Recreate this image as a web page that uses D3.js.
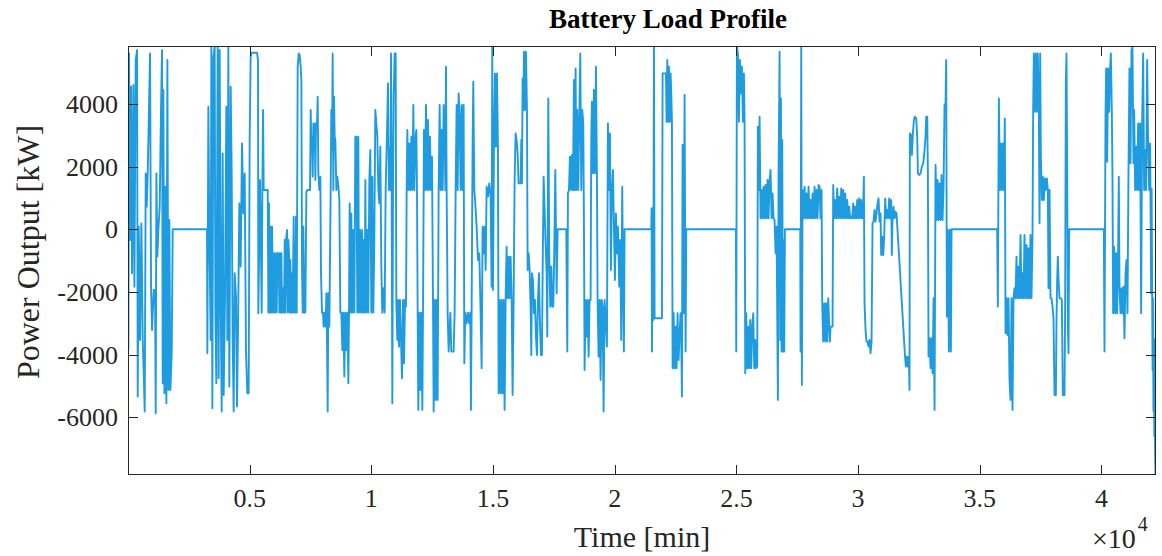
<!DOCTYPE html>
<html><head><meta charset="utf-8">
<script src="https://cdn.jsdelivr.net/npm/d3@7"></script>
<style>body{margin:0;background:#fff;overflow:hidden}</style>
</head><body>
<svg id="c" width="1162" height="556"></svg>
<script>
// ---- data (time in minutes, battery power in kW) ----
const xTicks = [5000, 10000, 15000, 20000, 25000, 30000, 35000, 40000];
const xTickLabels = ["0.5", "1", "1.5", "2", "2.5", "3", "3.5", "4"];
const yTicks = [-6000, -4000, -2000, 0, 2000, 4000];
const yTickLabels = ["-6000", "-4000", "-2000", "0", "2000", "4000"];
const xLimits = [0, 42240];
const yLimits = [-7840, 5850];

const seg1 = [[0,0],[16,-3849],[44,5614],[85,-340],[126,4551],[167,-1404],[222,4604],[263,-1829],[317,5402],[372,5720],[400,-5338],[441,85],[495,-3530],[550,191],[605,-3530],[646,-4593],[687,-5816],[728,1786],[769,723],[810,1786],[851,3381],[906,5614],[947,-1829],[988,-3211],[1057,-1935],[1111,-1935],[1139,-5869],[1166,1786],[1207,-872],[1248,-21],[1303,723],[1358,3913],[1399,5720],[1426,-4912],[1454,4445],[1495,-5231],[1536,1361],[1577,-5550],[1618,5402],[1659,-5125],[1700,298],[1741,-5125],[1796,-3955],[1837,0],[3247,0],[3261,-3955],[3302,3913],[3343,-127],[3398,-3530],[3425,5827],[3466,-5710],[3507,5508],[3562,5827],[3589,-2467],[3630,-4912],[3685,5827],[3726,-4753],[3767,5720],[3808,-2041],[3849,-5816],[3890,2424],[3932,-5285],[3986,-2148],[4041,3913],[4082,-3530],[4123,5827],[4164,-5019],[4219,4551],[4260,1786],[4301,-3530],[4342,-5816],[4383,-1404],[4438,-2148],[4479,-5657],[4520,-3211],[4575,829],[4630,-1191],[4685,2743],[4739,510],[4794,1786],[4849,-3955],[4904,-5231],[4958,-5231],[4999,2850],[5040,5508],[5081,5635],[5300,5635],[5342,5402],[5355,-2680],[5424,1574]];

const seg2 = [[5494,-2658],[5521,1255],[5549,3807],[5576,1255],[5741,1255],[5768,-2658],[5795,829],[5823,-2658],[5850,85],[5891,-2658],[5919,85],[5960,-2658],[6001,-766],[6028,-2658],[6055,-1882],[6083,-766],[6110,-2658],[6138,-766],[6165,-1510],[6192,-766],[6220,-2658],[6247,-766],[6274,-2658],[6302,-766],[6329,-2658],[6370,-1882],[6411,-2658],[6439,-340],[6466,-2658],[6493,-340],[6535,-21],[6562,-2658],[6589,-340],[6617,-766],[6644,-2658],[6671,-978],[6713,-2658],[6740,-1404],[6767,-2658],[6808,404],[6836,-2658],[6877,-2658],[6904,404],[6932,-2658],[6973,5189],[7014,5614],[7055,5561],[7096,5189],[7123,4764],[7151,-1297],[7178,-2658],[7205,85],[7246,-2658],[7288,-2658],[7329,1202],[7370,1255],[7479,1255],[7507,3807],[7534,2531],[7561,2956],[7589,1680],[7616,3381],[7643,2531],[7671,3381],[7698,1574],[7726,3381],[7767,3381],[7794,4232],[7821,1786],[7862,1255],[7904,1680],[7931,-1404],[7972,-2658],[8013,-2658],[8040,-3105],[8082,-2658],[8123,-3105],[8150,-2041],[8177,-3530],[8205,-5816],[8232,-2041],[8273,-3105],[8328,1255],[8355,3807],[8383,2531],[8410,5614],[8437,1255],[8465,4232],[8492,2956],[8520,2850],[8561,1255],[8602,1680],[8657,1255],[8684,936],[8725,-2658],[8766,-2658],[8807,-3849],[8848,-2658],[8889,-4700],[8930,-2658],[8971,-3849],[9012,-2658],[9054,-4912],[9081,-2658],[9108,829],[9149,-2658],[9177,510],[9218,-2658],[9259,-21],[9300,-2658],[9341,2956],[9382,2956],[9423,-2658],[9464,2956],[9492,-2658],[9533,-21],[9574,-2658],[9615,-21],[9642,-2658],[9683,-340],[9724,-2658],[9752,1574],[9793,-2658],[9834,-21],[9875,-2658],[9916,1574],[9957,2531],[9998,-2658],[10039,1680],[10080,-2658],[10121,-340],[10162,3807],[10204,3381],[10245,2956],[10286,1255],[10327,829],[10368,2637],[10409,-1191],[10450,-2658],[10505,-1882],[10546,-2658],[10587,1255],[10642,3062],[10683,4657],[10724,1255],[10765,2637]];

const seg3 = [[10793,1255],[10807,5614],[10834,1255],[10861,-5550],[10889,1255],[10916,4232],[10957,5614],[10998,5614],[11026,-2361],[11067,-3530],[11094,-2254],[11135,-3743],[11176,-2254],[11217,-3530],[11259,-4753],[11300,-2254],[11341,-4275],[11382,-2254],[11423,-2467],[11450,1255],[11478,3169],[11519,1255],[11560,2743],[11601,1255],[11642,2956],[11683,1255],[11724,3966],[11765,1255],[11806,2850],[11847,3169],[11875,1255],[11902,-2658],[11929,-5763],[11970,-2658],[12011,-5125],[12053,-2658],[12094,-5763],[12121,-2658],[12162,3169],[12203,1255],[12244,3966],[12285,1255],[12326,3488],[12367,1255],[12408,2956],[12450,1255],[12491,2318],[12532,-2254],[12559,-5816],[12600,-2254],[12641,-5444],[12682,-2254],[12723,-5444],[12764,1255],[12805,3966],[12847,1255],[12888,3169],[12929,1255],[12970,3966],[13011,3169],[13038,1255],[13066,5189],[13093,1255],[13134,-2658],[13175,-3902],[13244,-2658],[13285,-3902],[13380,-3902],[13421,-2658],[13463,1255],[13504,3966],[13545,1255],[13586,4338],[13627,3594],[13668,1255],[13709,3966],[13750,1255],[13791,3966],[13819,-4275],[13860,-2658],[13914,-2999],[13969,-2658],[14024,-2999],[14065,-2658],[14092,-5763],[14120,-2467],[14161,2850],[14188,4710],[14229,1255],[14270,829],[14325,85],[14380,-978],[14435,-766],[14489,-2658],[14530,-4434],[14571,85],[14613,-766],[14654,85],[14695,-1297],[14736,1361],[14791,1042],[14845,1467],[14900,1042],[14941,-1829],[14968,5827],[14996,-1935],[15037,2637],[15078,4976],[15119,2637],[15160,4976],[15201,2637],[15229,-5231],[15270,-2254],[15311,-5231],[15352,-2254],[15393,-5231],[15434,-2254],[15475,-5763],[15516,-2254],[15557,-553],[15598,-2201],[15639,-872],[15680,-2201],[15721,-872],[15763,-2201],[15804,-5285],[15845,-2254],[15886,1574],[15927,3062],[15968,2850],[16009,2424],[16050,1467],[16105,1467]];

const seg4 = [[16133,1467],[16160,2850],[16188,1467],[16215,4817],[16243,3807],[16270,5667],[16311,3807],[16352,5667],[16393,3807],[16421,-1297],[16462,-766],[16503,-1297],[16544,-2467],[16571,-4009],[16599,-1404],[16640,-1616],[16681,-2680],[16722,-2254],[16763,-3424],[16804,-4009],[16845,-2254],[16886,-1404],[16927,-2999],[16968,-4009],[17009,-4009],[17037,-1404],[17078,1680],[17119,617],[17160,-500],[17201,-1404],[17228,-3424],[17269,4179],[17310,-872],[17351,-2467],[17393,-1191],[17434,-2467],[17475,-2467],[17516,-659],[17557,1893],[17584,85],[17612,-2041],[17653,0],[18008,0],[18050,-3902],[18077,1148],[18118,1255],[18159,2318],[18200,1255],[18241,2371],[18282,1255],[18323,4764],[18351,1255],[18392,5136],[18419,1255],[18460,3807],[18501,1255],[18542,3488],[18584,5614],[18625,1255],[18666,3807],[18707,3381],[18734,191],[18762,-4487],[18803,-2254],[18844,-3424],[18885,-2254],[18926,-4062],[18967,-2254],[19008,-2254],[19035,2850],[19063,4072],[19104,1786],[19145,4445],[19186,1786],[19227,5189],[19268,1786],[19295,-2254],[19337,-4062],[19378,-2254],[19419,-4806],[19460,-2254],[19501,-2467],[19542,-5816],[19583,-2254],[19638,-2999],[19679,-3743],[19720,3381],[19761,1255],[19802,3062],[19843,-1297],[19884,1255],[19926,1893],[19967,85],[20008,-1616],[20049,510],[20089,-766],[20131,85],[20185,-1829],[20226,-340],[20267,-3530],[20308,1361],[20336,-1404],[20377,-3902],[20404,0],[21458,0]];

const seg5 = [[21501,0],[21515,670],[21529,-3902],[21556,-659],[21584,-2892],[21611,5827],[21638,-2839],[21940,-2839],[21967,4976],[22104,4976],[22131,3434],[22159,5402],[22200,3434],[22227,5189],[22268,3434],[22295,4976],[22323,4338],[22350,3434],[22378,-4434],[22419,-2680],[22460,-4434],[22501,-3105],[22542,-4434],[22583,-2680],[22624,-4168],[22665,-3318],[22706,-2680],[22734,-3637],[22761,-5338],[22788,2690],[22829,-2680],[22870,4285],[22911,-3902],[22939,0],[24979,0],[24992,-3902],[25020,5827],[25061,5614],[25102,3434],[25143,5402],[25184,4338],[25225,5189],[25266,3434],[25307,4976],[25335,3434],[25362,-4593],[25403,-2680],[25444,-4434],[25485,-3105],[25526,-4434],[25567,-2892],[25608,-4434],[25649,-3105],[25691,-2680],[25732,-4434],[25773,-3530],[25814,-4434],[25855,-4381],[25882,3275],[25923,1255],[25951,3594],[25992,351],[26033,1255],[26074,351],[26115,1361],[26156,351],[26197,1414],[26238,351],[26279,1574],[26320,351],[26361,1574],[26402,1893],[26444,351],[26485,1148],[26526,351],[26567,298],[26608,-766],[26649,85],[26704,-5444],[26731,1786],[26758,4179]];

const seg6 = [[26773,5667],[26800,-3530],[26828,4179],[26855,-3902],[26882,2850],[26910,-3902],[26937,-340],[26965,-3902],[26992,0],[27622,0],[27635,-3902],[27663,5827],[27690,-4966],[27718,1255],[27759,351],[27800,1361],[27841,351],[27882,1148],[27923,351],[27964,1361],[28005,351],[28046,936],[28087,351],[28128,1148],[28169,351],[28210,1361],[28251,351],[28293,1255],[28334,351],[28375,1414],[28416,1361],[28457,351],[28498,1255],[28525,-2361],[28566,-3583],[28607,-2361],[28649,-3583],[28690,-2361],[28731,-3583],[28772,-2201],[28813,-3105],[28840,-3583],[28868,-3105],[28950,-3105],[28977,1414],[29018,351],[29059,936],[29100,351],[29141,1308],[29182,351],[29223,1042],[29265,351],[29306,1308],[29347,351],[29388,1255],[29429,351],[29470,1148],[29511,351],[29552,936],[29593,351],[29634,723],[29675,351],[29716,404],[29757,351],[29798,829],[29840,351],[29881,723],[29922,351],[29963,936],[30004,351],[30045,989],[30086,351],[30127,936],[30168,351],[30209,723],[30237,1680],[30264,-2361],[30305,-3211],[30346,-3583],[30388,-3583],[30429,-3743],[30470,-3530],[30511,-3955],[30552,-3583],[30593,191],[30634,245],[30675,617],[30716,245],[30757,510],[30798,829],[30839,989],[30880,245],[30921,510],[30948,-819],[30989,-234],[31031,-819],[31072,-234],[31113,989],[31154,351],[31195,617],[31236,351],[31277,989],[31318,351],[31359,936],[31387,-819],[31414,351],[31455,723],[31496,351],[31537,564],[31578,510],[31920,-3955],[31961,-4381],[32002,-4062],[32043,-4381],[32084,-4062],[32112,-5125],[32126,3062]];

const seg7 = [[32169,3009],[32210,2371],[32251,3062],[32292,3488],[32333,3594],[32388,3541],[32429,2956],[32456,1786],[32511,1733],[32566,1786],[32621,1999],[32675,2105],[32730,2531],[32771,2956],[32798,3594],[32840,3594],[32867,1786],[32894,-4062],[32935,-3477],[32976,-4434],[33017,-3477],[33059,-4593],[33100,-2201],[33141,-5763],[33182,2052],[33223,298],[33264,1574],[33305,298],[33346,1467],[33387,298],[33428,1733],[33469,298],[33510,1361],[33551,3966],[33592,4019],[33620,5402],[33647,-2786],[33688,-21],[33729,-3902],[33770,-21],[33811,-3902],[33839,0],[35714,0],[35742,-2467],[35783,4179],[35824,1255],[35865,2743],[35906,1255],[35947,2743],[35988,1255],[36029,3541],[36057,-3318],[36098,-2201],[36139,-3371],[36180,-2201],[36221,-4806],[36262,-5444],[36303,-2201],[36344,-5763],[36385,-2201],[36426,-1882],[36467,-2201],[36508,-872],[36550,-2201],[36591,-1191],[36632,-2201],[36673,-181],[36714,-2201],[36755,-1404],[36796,-2201],[36837,-181],[36878,-2201],[36919,-500],[36960,-2201],[37001,-606],[37042,-2201],[37083,-181],[37124,-2201],[37166,-181],[37193,3807],[37220,5614],[37261,3753],[37302,5614],[37343,3753],[37384,5614],[37426,3753]];

const seg8 = [[37454,191],[37481,5614],[37509,2371],[37550,936],[37591,1680],[37632,936],[37673,1627],[37714,1255],[37755,1627],[37796,1255],[37824,-1882],[37865,1255],[37906,-2201],[37947,-2201],[37988,-2467],[38029,-2839],[38070,-5285],[38125,-5285],[38152,-2892],[38180,-1563],[38207,-872],[38234,-1563],[38275,-2201],[38330,-2201],[38371,-2254],[38412,-5285],[38481,-5285],[38508,-2254],[38535,4657],[38563,5614],[38590,1786],[38618,-3105],[38645,-3955],[38672,0],[40096,0],[40124,-3902],[40165,3594],[40192,5136],[40233,2159],[40274,5136],[40315,3753],[40356,5136],[40384,5614],[40425,3753],[40452,1627],[40479,-2680],[40520,-553],[40562,-2680],[40603,-766],[40644,-2680],[40685,-553],[40712,1680],[40740,-1882],[40781,-2680],[40822,-1882],[40863,-2680],[40904,-1829],[40945,-3477],[40986,-1457],[41027,-978],[41068,-2680],[41109,1786],[41150,5136],[41191,2105],[41232,5720],[41273,5827],[41314,2105],[41342,3807],[41383,1255],[41424,2637],[41465,1255],[41506,3381],[41547,1255],[41588,3381],[41629,-2680],[41670,3381],[41712,5614],[41753,1255],[41794,2531],[41835,1255],[41876,5402],[41917,2743],[41958,1255],[41999,2743],[42040,-2041],[42060,1300],[42081,-2000],[42100,-4500],[42115,-2200],[42135,-5800],[42150,-3500],[42170,-6600],[42185,-5000],[42205,-7300],[42220,-7800],[42232,-2041],[42240,0]];

const series = [].concat(seg1, seg2, seg3, seg4, seg5, seg6, seg7, seg8);

// ---- layout ----
const plot = {left: 128, right: 1156, top: 46, bottom: 475};
const ink = "#262626";
const lineColor = "#1f9be0";
const font = "'Liberation Serif', 'Times New Roman', serif";

const svg = d3.select("#c");
svg.append("rect").attr("width", 1162).attr("height", 556).attr("fill", "#fff");

const x = d3.scaleLinear().domain(xLimits).range([plot.left, plot.right]);
const y = d3.scaleLinear().domain(yLimits).range([plot.bottom, plot.top]);

svg.append("defs").append("clipPath").attr("id", "clip")
  .append("rect").attr("x", plot.left).attr("y", plot.top)
  .attr("width", plot.right - plot.left).attr("height", plot.bottom - plot.top);

const line = d3.line().x(d => x(d[0])).y(d => y(d[1]));
svg.append("path").datum(series)
  .attr("clip-path", "url(#clip)")
  .attr("fill", "none").attr("stroke", lineColor)
  .attr("stroke-width", 1.9).attr("stroke-linejoin", "round")
  .attr("d", line);

// box
svg.append("rect")
  .attr("x", plot.left + 0.5).attr("y", plot.top + 0.5)
  .attr("width", plot.right - plot.left - 1).attr("height", plot.bottom - plot.top - 1)
  .attr("fill", "none").attr("stroke", ink).attr("stroke-width", 1);

const tickLen = 10;
const xt = svg.append("g");
xTicks.forEach((t, i) => {
  const px = Math.round(x(t)) + 0.5;
  xt.append("line").attr("x1", px).attr("x2", px).attr("y1", plot.bottom).attr("y2", plot.bottom - tickLen).attr("stroke", ink);
  xt.append("line").attr("x1", px).attr("x2", px).attr("y1", plot.top).attr("y2", plot.top + tickLen).attr("stroke", ink);
  xt.append("text").attr("x", x(t)).attr("y", 507).attr("text-anchor", "middle")
    .attr("font-family", font).attr("font-size", 26).attr("fill", ink).text(xTickLabels[i]);
});
const yt = svg.append("g");
yTicks.forEach((t, i) => {
  const py = Math.round(y(t)) + 0.5;
  yt.append("line").attr("x1", plot.left).attr("x2", plot.left + tickLen).attr("y1", py).attr("y2", py).attr("stroke", ink);
  yt.append("line").attr("x1", plot.right).attr("x2", plot.right - tickLen).attr("y1", py).attr("y2", py).attr("stroke", ink);
  yt.append("text").attr("x", 118).attr("y", y(t)).attr("dy", "0.35em").attr("text-anchor", "end")
    .attr("font-family", font).attr("font-size", 26).attr("fill", ink).text(yTickLabels[i]);
});

// exponent label
const ex = svg.append("text").attr("x", 1092).attr("y", 548)
  .attr("font-family", font).attr("font-size", 28).attr("fill", ink);
ex.append("tspan").text("\u00d710");
ex.append("tspan").attr("dx", 2).attr("dy", -17).attr("font-size", 20).text("4");

// axis labels and title
svg.append("text").attr("x", (plot.left + plot.right) / 2).attr("y", 547)
  .attr("text-anchor", "middle").attr("font-family", font).attr("font-size", 30)
  .attr("fill", ink).text("Time [min]");
svg.append("text").attr("transform", "translate(39,252) rotate(-90)")
  .attr("text-anchor", "middle").attr("font-family", font).attr("font-size", 32)
  .attr("fill", ink).text("Power Output [kW]");
svg.append("text").attr("x", 668).attr("y", 28)
  .attr("text-anchor", "middle").attr("font-family", font).attr("font-size", 27)
  .attr("font-weight", "bold").attr("fill", "#000").text("Battery Load Profile");
</script>
</body></html>
